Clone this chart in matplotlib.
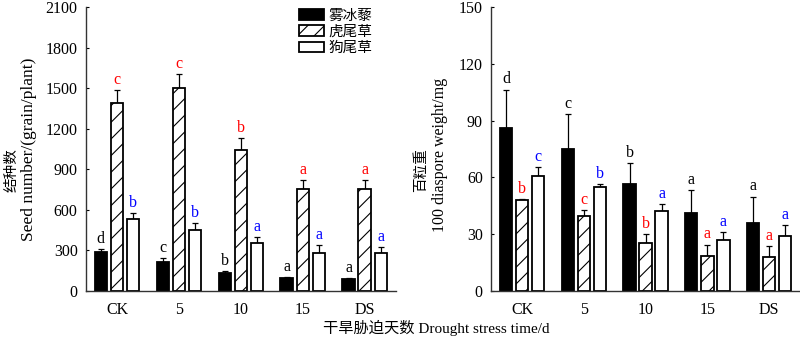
import matplotlib
matplotlib.use('Agg')
import matplotlib.pyplot as plt
import numpy as np

plt.rcParams['font.family'] = ['Liberation Serif', 'Noto Sans CJK SC']
plt.rcParams['hatch.linewidth'] = 0.8

groups = ['CK', '5', '10', '15', 'DS']
species = ['雾冰藜', '虎尾草', '狗尾草']

# seed number per plant
seed_mean = [[290, 212, 130, 95, 92],
             [1390, 1500, 1043, 754, 754],
             [532, 453, 357, 283, 279]]
seed_err = [[20, 30, 15, 6, 4],
            [100, 105, 88, 68, 68],
            [45, 47, 40, 55, 50]]
seed_letters = [['d', 'c', 'b', 'a', 'a'],
                ['c', 'c', 'b', 'a', 'a'],
                ['b', 'b', 'a', 'a', 'a']]

# 100 diaspore weight
weight_mean = [[86.4, 74.8, 56.7, 41.2, 35.9],
               [47.9, 39.6, 25.5, 18.5, 18.0],
               [60.6, 55.1, 42.4, 27.1, 28.9]]
weight_err = [[20, 18.5, 10.7, 12, 14],
              [0.7, 3.2, 4.6, 6, 5.6],
              [4.8, 1.4, 3.7, 3.9, 5.9]]
weight_letters = [['d', 'c', 'b', 'a', 'a'],
                  ['b', 'c', 'b', 'a', 'a'],
                  ['c', 'b', 'a', 'a', 'a']]

faces = ['black', 'white', 'white']
hatches = [None, '//', None]
letter_colors = ['black', 'red', 'blue']

fig = plt.figure(figsize=(8, 3.4), dpi=100)
ax1 = fig.add_axes([0.1075, 0.144, 0.387, 0.835])
ax2 = fig.add_axes([0.614, 0.144, 0.386, 0.835])

x = np.arange(len(groups))
w = 0.2
step = 0.26


def draw(ax, means, errs, letters, ymax, yticks, pad):
    handles = []
    for i in range(3):
        pos = x + (i - 1) * step
        m = np.array(means[i])
        e = np.array(errs[i])
        b = ax.bar(pos, m, w, color=faces[i], edgecolor='black', linewidth=1.3,
                   hatch=hatches[i], label=species[i], zorder=2)
        ax.errorbar(pos, m, yerr=[np.zeros_like(e), e], fmt='none', ecolor='black',
                    elinewidth=0.9, capsize=2.5, capthick=0.9, zorder=1)
        for p, v, ee, lt in zip(pos, m, e, letters[i]):
            ax.text(p, v + ee + pad, lt, ha='center', va='bottom',
                    color=letter_colors[i], fontsize=11.5)
        handles.append(b)
    ax.set_xlim(-0.5, 4.5)
    ax.set_ylim(0, ymax)
    ax.set_yticks(yticks)
    ax.set_xticks(x)
    ax.set_xticklabels(groups, fontsize=11.5)
    ax.tick_params(axis='x', length=0, pad=8)
    ax.tick_params(axis='y', direction='in', length=2.5, width=0.8, labelsize=11.5, pad=6)
    for s in ['top', 'right']:
        ax.spines[s].set_visible(False)
    for s in ['left', 'bottom']:
        ax.spines[s].set_linewidth(1.0)
        ax.spines[s].set_color('#333333')
    return handles


h = draw(ax1, seed_mean, seed_err, seed_letters, 2100, np.arange(0, 2101, 300), 15)
draw(ax2, weight_mean, weight_err, weight_letters, 150, np.arange(0, 151, 30), 1.2)

ax1.legend(handles=h, loc='upper right', bbox_to_anchor=(0.93, 1.0), frameon=False,
           handlelength=1.7, handleheight=0.75, labelspacing=0.15,
           handletextpad=0.3, borderaxespad=0.0, borderpad=0.1,
           prop={'family': ['Noto Sans CJK SC'], 'size': 10.5})

fig.text(0.015, 0.5, '结种数', rotation=90, ha='center', va='center', fontsize=10.5,
         family=['Noto Sans CJK SC'])
fig.text(0.036, 0.56, 'Seed number/(grain/plant)', rotation=90, ha='center', va='center',
         fontsize=12.5)
fig.text(0.527, 0.5, '百粒重', rotation=90, ha='center', va='center', fontsize=10.5,
         family=['Noto Sans CJK SC'])
fig.text(0.55, 0.545, '100 diaspore weight/mg', rotation=90, ha='center', va='center',
         fontsize=11.5)
fig.text(0.545, 0.035, '干旱胁迫天数 Drought stress time/d', ha='center', va='center',
         fontsize=11, family=['Liberation Serif', 'Noto Sans CJK SC'])

fig.savefig('out.png', dpi=100)
